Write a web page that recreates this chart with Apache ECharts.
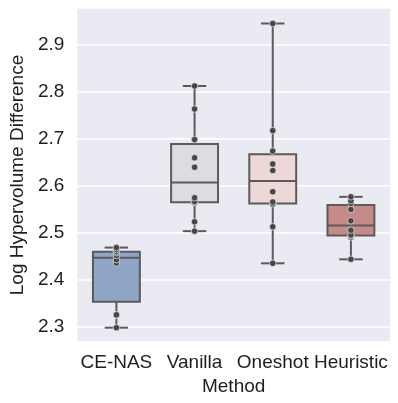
<!DOCTYPE html>
<html>
<head>
<meta charset="utf-8">
<script src="https://cdn.jsdelivr.net/npm/echarts@6/dist/echarts.min.js"></script>
<style>
  html, body { margin: 0; padding: 0; background: #fff; }
  #chart { width: 398px; height: 403px; }
</style>
</head>
<body>
<div id="chart"></div>
<script>
const methods = ['CE-NAS', 'Vanilla', 'Oneshot', 'Heuristic']

// runs per method
const ceNas = [2.2985, 2.325, 2.326, 2.436, 2.443, 2.452, 2.458, 2.461, 2.465, 2.469]
const vanilla = [2.504, 2.524, 2.565, 2.567, 2.575, 2.640, 2.660, 2.699, 2.764, 2.813]
const oneshot = [2.4355, 2.5134, 2.562, 2.566, 2.588, 2.633, 2.647, 2.6745, 2.718, 2.946]
const heuristic = [2.444, 2.491, 2.494, 2.496, 2.506, 2.526, 2.550, 2.563, 2.569, 2.577]

const boxColors = ['#8ea5c5', '#dcdde2', '#ecd8d7', '#c48b88']
const edge = '#5b5b5b'

const groups = [ceNas, vanilla, oneshot, heuristic]

// linear quantile (same as numpy default)
const quantile = (arr, q) => {
  const s = [...arr].sort((a, b) => a - b)
  const pos = (s.length - 1) * q
  const lo = Math.floor(pos)
  const hi = Math.ceil(pos)
  return s[lo] + (s[hi] - s[lo]) * (pos - lo)
}

const boxData = groups.map((g, i) => [
  i,
  Math.min(...g),
  quantile(g, 0.25),
  quantile(g, 0.5),
  quantile(g, 0.75),
  Math.max(...g),
])
const pointData = groups.flatMap((g, i) => g.map((v) => [i, v]))

const chart = echarts.init(document.getElementById('chart'))

const font = 'Liberation Sans, Arial, sans-serif'
const txt = '#1e1e1e'

chart.setOption({
  animation: false,
  backgroundColor: '#fff',
  grid: {
    left: 70, right: 8, top: 8, bottom: 61,
    show: true, backgroundColor: '#eaeaf2', borderWidth: 0,
  },
  xAxis: {
    type: 'category',
    data: methods,
    name: 'Method',
    nameLocation: 'middle',
    nameGap: 31,
    nameTextStyle: { fontSize: 19, color: txt, fontFamily: font },
    axisLine: { show: false },
    axisTick: { show: false },
    axisLabel: { fontSize: 19, color: txt, fontFamily: font, margin: 11, interval: 0 },
    splitLine: { show: false },
  },
  yAxis: {
    type: 'value',
    min: 2.268,
    max: 2.979,
    splitNumber: 7,
    name: 'Log Hypervolume Difference',
    nameLocation: 'middle',
    nameRotate: 90,
    nameGap: 44,
    nameTextStyle: { fontSize: 19, color: txt, fontFamily: font },
    axisLine: { show: false },
    axisTick: { show: false },
    axisLabel: {
      fontSize: 19, color: txt, fontFamily: font, margin: 13,
      showMinLabel: false, showMaxLabel: false,
      formatter: (v) => v.toFixed(1),
    },
    splitLine: { lineStyle: { color: '#ffffff', width: 1.5 } },
  },
  series: [
    {
      type: 'custom',
      data: boxData,
      encode: { x: 0, y: [1, 2, 3, 4, 5] },
      renderItem: (params, api) => {
        const i = api.value(0)
        const [x, yMin] = api.coord([i, api.value(1)])
        const yQ1 = api.coord([i, api.value(2)])[1]
        const yMed = api.coord([i, api.value(3)])[1]
        const yQ3 = api.coord([i, api.value(4)])[1]
        const yMax = api.coord([i, api.value(5)])[1]
        const band = api.size([1, 0])[0]
        const bw = band * 0.6
        const cw = bw / 2
        const ls = { stroke: edge, lineWidth: 2 }
        return {
          type: 'group',
          children: [
            { type: 'line', shape: { x1: x, y1: yMax, x2: x, y2: yQ3 }, style: ls },
            { type: 'line', shape: { x1: x, y1: yQ1, x2: x, y2: yMin }, style: ls },
            { type: 'line', shape: { x1: x - cw / 2, y1: yMax, x2: x + cw / 2, y2: yMax }, style: ls },
            { type: 'line', shape: { x1: x - cw / 2, y1: yMin, x2: x + cw / 2, y2: yMin }, style: ls },
            {
              type: 'rect',
              shape: { x: x - bw / 2, y: yQ3, width: bw, height: yQ1 - yQ3 },
              style: { fill: boxColors[i], stroke: edge, lineWidth: 2 },
            },
            { type: 'line', shape: { x1: x - bw / 2, y1: yMed, x2: x + bw / 2, y2: yMed }, style: ls },
          ],
        }
      },
      z: 2,
    },
    {
      type: 'scatter',
      data: pointData,
      symbol: 'circle',
      symbolSize: 6.5,
      itemStyle: { color: '#474747', borderColor: '#ffffff', borderWidth: 0.6, opacity: 1 },
      z: 3,
    },
  ],
})
</script>
</body>
</html>
